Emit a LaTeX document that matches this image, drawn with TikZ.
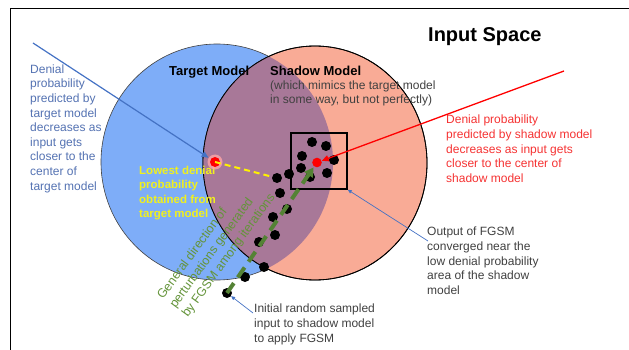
\documentclass[tikz,border=0pt]{standalone}
\usepackage{fontspec}
\setmainfont{Liberation Sans}
\usetikzlibrary{arrows.meta}
\definecolor{tblue}{RGB}{126,173,248}
\definecolor{salmon}{RGB}{249,171,150}
\definecolor{overlap}{RGB}{168,120,152}
\definecolor{lblue}{RGB}{84,114,178}
\definecolor{ablue}{RGB}{68,114,196}
\definecolor{ogreen}{RGB}{84,130,53}
\definecolor{tgreen}{RGB}{100,148,58}
\definecolor{rtext}{RGB}{245,50,50}
\definecolor{gtext}{RGB}{64,64,64}
\definecolor{ytext}{RGB}{240,240,30}
\tikzset{
  dot/.style={circle, fill=black, inner sep=0pt, minimum size=10pt},
  reddot/.style={circle, fill=red, inner sep=0pt, minimum size=9.6pt},
  txt/.style={inner sep=0pt, anchor=north west, align=left, font=\fontsize{12}{14.6}\selectfont},
  bluearrow/.style={draw=ablue, line width=1.2pt, -{Triangle[length=7pt,width=6pt]}},
  thinblue/.style={draw=ablue, line width=0.7pt, -{Triangle[length=4pt,width=3.5pt]}}
}
\begin{document}
\begin{tikzpicture}[x=1pt,y=-1pt]
\useasboundingbox (0,0) rectangle (629,350);
% frame
\draw[line width=1pt] (10,351) -- (10,9) -- (629,9);
% circles
\draw[fill=tblue, draw=black!75, line width=0.6pt] (217,162) ellipse [x radius=116pt, y radius=118pt];
\draw[fill=salmon, draw=black, line width=0.8pt] (315,163) ellipse [x radius=112pt, y radius=117pt];
\begin{scope}
  \clip (217,162) ellipse [x radius=116pt, y radius=118pt];
  \fill[overlap] (315,163) ellipse [x radius=112pt, y radius=117pt];
\end{scope}
\draw[draw=black, line width=0.8pt] (315,163) ellipse [x radius=112pt, y radius=117pt];

% titles
\node[inner sep=0pt, anchor=north west, font=\fontsize{20}{24}\selectfont\bfseries] (title) at (428,27) {Input Space};
\node[inner sep=0pt, anchor=north west, font=\fontsize{13}{15}\selectfont\bfseries] (tmodel) at (169,66) {Target Model};
\node[inner sep=0pt, anchor=north west, font=\fontsize{13}{15}\selectfont\bfseries] (smodel) at (270,66) {Shadow Model};
\node[txt, font=\fontsize{12}{13.4}\selectfont, text=gtext] (ssub) at (270,81) {(which mimics the target model\\in some way, but not perfectly)};

% texts
\node[txt, text=lblue] (ltext) at (30,64.5) {Denial\\probability\\predicted by\\target model\\decreases as\\input gets\\closer to the\\center of\\target model};
\node[txt, text=rtext] (rtxt) at (446,115) {Denial probability\\predicted by shadow model\\decreases as input gets\\closer to the center of\\shadow model};
\node[txt, text=ytext, font=\fontsize{11.5}{14.5}\selectfont\bfseries] (ytxt) at (139,165.5) {Lowest denial\\probability\\obtained from\\target model};
\node[txt, text=gtext] (otxt) at (427,227) {Output of FGSM\\converged near the\\low denial probability\\area of the shadow\\model};
\node[txt, text=gtext] (itxt) at (254,304) {Initial random sampled\\input to shadow model\\to apply FGSM};
\node[txt, text=tgreen, font=\fontsize{12.5}{15.2}\selectfont, rotate=54] (gtxt) at (155.6,294.6) {General direction of\\perturbations generated\\by FGSM among iterations};

% box
\node[draw=black, line width=1.5pt, minimum width=56pt, minimum height=56pt, inner sep=0pt] (box) at (319,161) {};

% dots
\node[dot] (b1) at (312,142) {};
\node[dot] (b2) at (326,146) {};
\node[dot] (b3) at (302,156) {};
\node[dot] (b4) at (334,160) {};
\node[dot] (b5) at (301,168) {};
\node[dot] (b6) at (310,177) {};
\node[dot] (b7) at (327,173) {};
\node[dot] (p1) at (289,174) {};
\node[dot] (p2) at (277,178) {};
\node[dot] (p3) at (280,193) {};
\node[dot] (p4) at (287,209) {};
\node[dot] (p5) at (273,217) {};
\node[dot] (p6) at (275,235) {};
\node[dot] (p7) at (259,242) {};
\node[dot] (p8) at (264,267) {};
\node[dot] (p9) at (245,277) {};
\node[dot] (p0) at (227,293) {};

% red dots
\node[circle, fill=red!35, inner sep=0pt, minimum size=15pt, opacity=0.8] (rthalo) at (215,162) {};
\node[reddot, minimum size=10pt] (rt) at (215,162) {};
\node[reddot] (rs) at (317,162.5) {};

% connectors
\draw[draw=yellow, line width=2pt, dash pattern=on 6pt off 4pt] (rt.center) -- (p2);
\draw[draw=ogreen, line width=4pt, dash pattern=on 12pt off 7pt, -{Triangle[length=9pt,width=10pt]}, shorten >=1pt] (p0.center) -- (rs);
\coordinate (bstart) at (33,43);
\draw[bluearrow] (bstart) -- (rthalo);
\coordinate (rstart) at (564,71);
\draw[draw=red, line width=1.3pt, -{Triangle[length=7pt,width=6pt]}] (rstart) -- (rs);
\draw[thinblue] ([xshift=1pt,yshift=-14pt]otxt.north west) -- (box.south east);
\draw[thinblue] ([xshift=-1pt,yshift=-9pt]itxt.north west) -- (p0);
\end{tikzpicture}
\end{document}
